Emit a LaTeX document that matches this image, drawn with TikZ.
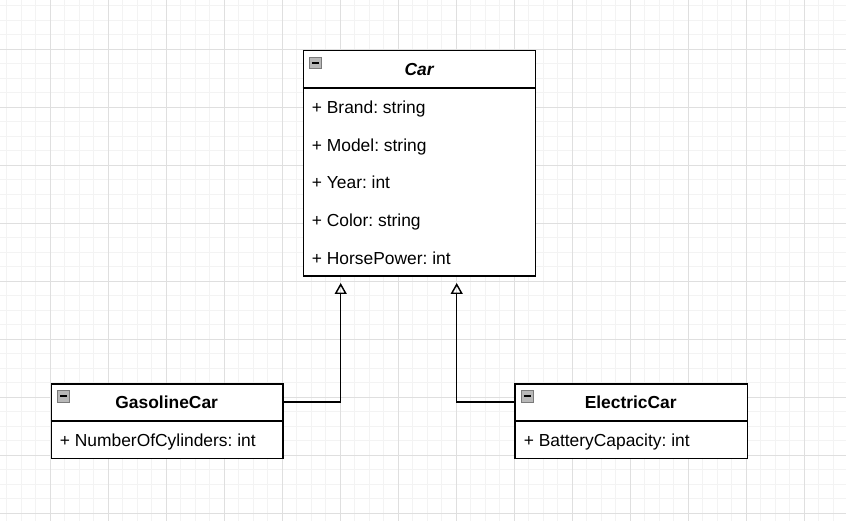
\documentclass[tikz,border=0pt]{standalone}
\usepackage{fontspec}
\setmainfont{Liberation Sans}
\usetikzlibrary{arrows.meta}
\definecolor{minorgridc}{HTML}{F3F3F3}
\definecolor{majorgridc}{HTML}{DFDFDF}
\definecolor{iconfill}{HTML}{B8B8B8}
\definecolor{iconedge}{HTML}{7A7A7A}
\frenchspacing
\begin{document}
\begin{tikzpicture}[x=1pt,y=-1pt,
  minorline/.style={draw=minorgridc, line width=1pt},
  majorline/.style={draw=majorgridc, line width=1pt},
  classbox/.style={draw=black, line width=1.45pt, fill=white, rectangle, inner sep=0pt, anchor=north west},
  headbox/.style={rectangle, inner sep=0pt, anchor=north west, font=\fontsize{17.4pt}{20pt}\selectfont\frenchspacing\bfseries},
  rowtext/.style={inner sep=0pt, anchor=base west, font=\fontsize{17.4pt}{20pt}\selectfont\frenchspacing},
  sepline/.style={draw=black, line width=1.45pt},
  iconbox/.style={draw=iconedge, fill=iconfill, line width=0.8pt, rectangle, inner sep=0pt, minimum width=12pt, minimum height=11.5pt, anchor=north west},
  iconminus/.style={draw=black, line width=1.6pt},
  inh/.style={draw=black, line width=1.45pt, -{Triangle[open, length=11pt, width=12pt, line width=1.45pt]}}
]
\useasboundingbox (0,0) rectangle (846,521);
\fill[white] (0,0) rectangle (846,521);
% grid
\foreach \i in {-3,...,54} {\draw[minorline] ({50+14.5*\i},0) -- ({50+14.5*\i},521);}
\foreach \i in {-3,...,32} {\draw[minorline] (0,{49.3+14.5*\i}) -- (846,{49.3+14.5*\i});}
\foreach \i in {0,...,13} {\draw[majorline] ({50+58*\i},0) -- ({50+58*\i},521);}
\foreach \i in {0,...,8} {\draw[majorline] (0,{49.3+58*\i}) -- (846,{49.3+58*\i});}

% Car class
\node[classbox, minimum width=232.3pt, minimum height=225.5pt] (car) at (302.7,50) {};
\node[headbox, minimum width=232.3pt, minimum height=37.7pt] (carHead) at (302.7,50) {\itshape Car};
\draw[sepline] (carHead.south west) -- (carHead.south east);
\node[iconbox] (carIcon) at (309.3,57) {};
\draw[iconminus] ([xshift=2.8pt]carIcon.west) -- ([xshift=-2.8pt]carIcon.east);
\node[rowtext] (carBrand) at (311.7,113.3) {+ Brand: string};
\node[rowtext] (carModel) at (311.7,151.3) {+ Model: string};
\node[rowtext] (carYear) at (311.7,188.8) {+ Year: int};
\node[rowtext] (carColor) at (311.7,226.3) {+ Color: string};
\node[rowtext] (carHP) at (311.7,264.3) {+ HorsePower: int};

% GasolineCar class
\node[classbox, minimum width=231.6pt, minimum height=74.4pt] (gas) at (50.7,383.3) {};
\node[headbox, minimum width=231.6pt, minimum height=37.4pt] (gasHead) at (50.7,383.3) {GasolineCar};
\draw[sepline] (gasHead.south west) -- (gasHead.south east);
\node[iconbox] (gasIcon) at (57.3,390) {};
\draw[iconminus] ([xshift=2.8pt]gasIcon.west) -- ([xshift=-2.8pt]gasIcon.east);
\node[rowtext] (gasCyl) at (59.7,446.3) {+ NumberOfCylinders: int};

% ElectricCar class
\node[classbox, minimum width=232.4pt, minimum height=74.4pt] (elec) at (514.3,383.3) {};
\node[headbox, minimum width=232.4pt, minimum height=37.4pt] (elecHead) at (514.3,383.3) {ElectricCar};
\draw[sepline] (elecHead.south west) -- (elecHead.south east);
\node[iconbox] (elecIcon) at (521,390) {};
\draw[iconminus] ([xshift=2.8pt]elecIcon.west) -- ([xshift=-2.8pt]elecIcon.east);
\node[rowtext] (elecBat) at (523.6,446.3) {+ BatteryCapacity: int};

% inheritance connectors
\coordinate (tipL) at (340.7,283);
\coordinate (tipR) at (456.7,283);
\draw[inh] (gasHead.east) -| (tipL);
\draw[inh] (elecHead.west) -| (tipR);
\end{tikzpicture}
\end{document}
